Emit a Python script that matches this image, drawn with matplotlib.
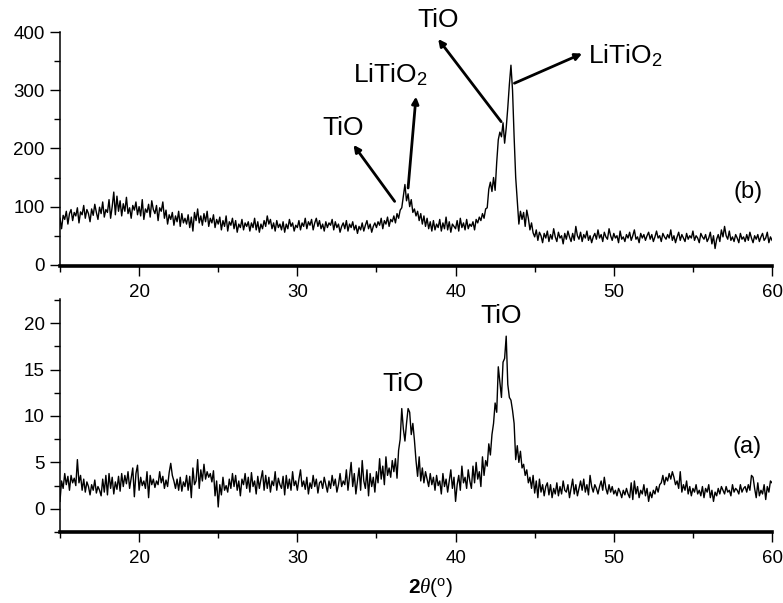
import numpy as np
import matplotlib
matplotlib.use("Agg")
import matplotlib.pyplot as plt
from matplotlib.ticker import MultipleLocator

plt.rcParams['font.family'] = ['Liberation Sans', 'DejaVu Sans']
plt.rcParams['mathtext.fontset'] = 'custom'
plt.rcParams['mathtext.rm'] = 'Liberation Sans'
plt.rcParams['mathtext.it'] = 'Liberation Serif:italic'
plt.rcParams['mathtext.bf'] = 'Liberation Sans:bold'

# XRD intensities, 0.1 deg steps from 15 to 60 (one row per degree)
pattern_b = [
    80, 62, 85, 78, 92, 70, 88, 95, 76, 90,
    84, 98, 72, 91, 86, 102, 80, 95, 88, 74,
    96, 85, 104, 90, 78, 99, 88, 108, 82, 95,
    90, 112, 80, 100, 125, 86, 118, 92, 110, 84,
    105, 92, 116, 88, 98, 80, 102, 94, 108, 86,
    100, 84, 112, 78, 96, 90, 104, 82, 110, 95,
    88, 102, 76, 98, 92, 108, 80, 94, 70, 86,
    78, 90, 68, 84, 74, 92, 66, 88, 72, 80,
    70, 86, 64, 82, 58, 90, 76, 96, 72, 84,
    68, 88, 74, 92, 66, 80, 72, 86, 64, 78,
    70, 82, 60, 76, 66, 84, 58, 74, 68, 80,
    62, 76, 56, 70, 64, 78, 60, 72, 66, 74,
    58, 72, 64, 80, 60, 74, 56, 70, 62, 76,
    66, 84, 70, 78, 62, 72, 58, 76, 64, 70,
    60, 74, 56, 70, 62, 78, 66, 72, 58, 68,
    64, 76, 60, 72, 66, 80, 62, 74, 68, 78,
    60, 72, 80, 66, 76, 62, 70, 58, 74, 64,
    72, 68, 78, 60, 74, 64, 70, 56, 66, 72,
    62, 76, 58, 70, 64, 74, 60, 68, 54, 66,
    60, 72, 58, 68, 76, 62, 70, 56, 66, 72,
    64, 74, 68, 80, 62, 76, 70, 82, 66, 78,
    74, 84, 72, 88, 80, 94, 98, 118, 138, 110,
    122, 100, 112, 90, 96, 84, 92, 76, 88, 70,
    84, 66, 80, 62, 74, 58, 76, 60, 70, 64,
    78, 58, 72, 62, 82, 60, 74, 56, 70, 66,
    62, 76, 58, 80, 64, 72, 60, 78, 62, 70,
    66, 74, 60, 78, 72, 82, 76, 88, 80, 96,
    98, 130, 142, 126, 150, 128, 176, 215, 228, 220,
    244, 209, 235, 270, 310, 343, 300, 220, 150, 110,
    70, 92, 78, 90, 66, 94, 80, 60, 72, 55,
    48, 60, 42, 56, 50, 38, 54, 46, 58, 40,
    52, 44, 62, 48, 40, 56, 46, 50, 36, 54,
    44, 58, 48, 40, 54, 42, 66, 50, 44, 56,
    40, 52, 46, 58, 42, 50, 38, 48, 54, 44,
    60, 46, 52, 40, 56, 48, 44, 62, 50, 42,
    54, 46, 50, 38, 58, 44, 48, 40, 52, 46,
    56, 42, 50, 60, 44, 48, 38, 54, 46, 52,
    42, 50, 56, 44, 52, 40, 48, 58, 46, 50,
    40, 54, 48, 44, 52, 46, 60, 42, 50, 38,
    48, 56, 42, 52, 46, 40, 54, 44, 50, 46,
    58, 42, 50, 46, 38, 54, 48, 44, 52, 40,
    46, 56, 36, 50, 28, 44, 52, 40, 60, 48,
    66, 50, 44, 58, 42, 48, 40, 52, 46, 38,
    54, 44, 48, 40, 52, 42, 56, 46, 38, 50,
    44, 52, 40, 48, 54, 42, 46, 56, 38, 48,
    42,
]

pattern_a = [
    0.8, 3.0, 2.2, 3.8, 2.6, 3.5, 2.0, 3.6, 2.8, 3.3,
    2.5, 5.3, 2.8, 3.6, 2.0, 3.2, 1.8, 2.9, 2.4, 1.5,
    2.6, 2.0, 3.1, 1.7, 2.4, 2.0, 1.4, 3.2, 1.8, 3.6,
    1.5, 3.8, 2.2, 3.4, 1.6, 2.9, 2.1, 3.5, 1.9, 3.8,
    2.4, 3.6, 2.7, 4.0, 2.2, 3.3, 4.4, 1.3, 3.8, 4.7,
    2.0, 3.4, 2.5, 3.0, 2.2, 4.0, 1.2, 3.6, 2.6, 3.2,
    2.3, 3.0, 2.6, 4.0, 2.8, 3.5, 2.2, 3.1, 2.4, 3.9,
    4.9, 3.6, 3.0, 2.2, 3.2, 2.0, 3.4, 1.9, 2.9, 2.4,
    3.6, 2.0, 3.5, 1.2, 4.4, 2.6, 3.0, 5.3, 2.2, 4.2,
    3.0, 4.8, 3.2, 4.0, 3.4, 3.8, 2.9, 4.1, 1.4, 3.0,
    0.2, 2.6, 1.5, 3.4, 2.0, 2.5, 1.8, 3.2, 2.2, 3.8,
    2.4, 3.6, 2.0, 3.0, 1.4, 3.2, 2.6, 3.8, 2.2, 3.4,
    1.8, 3.9, 2.4, 3.0, 1.6, 3.5, 2.2, 3.2, 4.1, 2.0,
    3.6, 2.2, 3.4, 1.8, 3.0, 2.5, 4.0, 2.0, 3.3, 2.6,
    2.2, 3.5, 1.5, 3.6, 2.2, 3.2, 2.0, 4.0, 2.5, 3.0,
    2.0, 3.2, 4.2, 2.4, 3.0, 2.1, 3.4, 1.6, 2.8, 2.2,
    3.6, 2.4, 3.2, 1.7, 2.8, 3.0, 2.2, 3.4, 2.6, 1.8,
    3.0, 2.2, 3.6, 2.5, 3.2, 1.8, 2.6, 3.8, 2.4, 3.0,
    2.6, 4.2, 2.0, 3.5, 5.0, 2.4, 3.8, 1.6, 3.0, 4.4,
    2.0, 5.2, 3.0, 2.2, 4.2, 1.4, 3.8, 2.4, 3.4, 1.8,
    4.0, 2.8, 5.4, 3.2, 4.6, 2.6, 5.6, 3.6, 4.4, 3.4,
    5.2, 4.0, 5.4, 3.3, 6.3, 7.5, 10.8, 8.6, 7.3, 9.2,
    10.8, 10.4, 8.0, 9.2, 7.4, 5.2, 3.5, 5.6, 3.0, 4.4,
    2.8, 4.0, 3.2, 2.4, 3.8, 2.6, 3.4, 2.0, 3.6, 2.5,
    3.0, 1.6, 3.8, 2.4, 3.2, 1.8, 3.0, 4.2, 2.2, 3.4,
    0.8, 2.6, 3.6, 2.0, 4.6, 2.8, 3.4, 2.2, 4.2, 3.0,
    2.2, 4.6, 2.8, 5.0, 3.2, 4.0, 2.4, 5.6, 3.6, 5.2,
    4.6, 7.0, 5.8, 8.0, 9.2, 11.4, 10.4, 15.3, 13.6, 12.0,
    15.8, 16.2, 18.6, 13.4, 12.0, 11.7, 10.6, 9.2, 5.3, 6.8,
    5.0, 6.2, 4.4, 4.8, 3.6, 4.2, 2.8, 3.4, 2.2, 3.6,
    1.7, 3.0, 1.2, 3.2, 1.8, 2.6, 1.4, 2.4, 2.8, 1.5,
    2.6, 1.2, 2.2, 1.6, 2.8, 1.4, 2.4, 1.6, 3.0, 2.0,
    1.8, 2.6, 1.2, 2.2, 3.2, 1.6, 2.6, 1.4, 2.2, 3.0,
    2.0, 3.2, 1.8, 2.6, 1.5, 3.6, 2.4, 1.8, 2.6, 2.2,
    1.6, 2.4, 3.0, 2.0, 3.4, 2.2, 1.6, 2.6, 1.8, 2.4,
    1.6, 2.0, 1.4, 2.2, 1.8, 1.2, 2.0, 1.5, 2.2, 1.6,
    1.2, 2.8, 1.0, 3.0, 1.6, 2.4, 1.2, 2.0, 1.6, 2.6,
    1.4, 2.2, 0.8, 1.8, 1.2, 2.0, 1.6, 2.4, 1.8, 2.6,
    2.8, 3.6, 2.6, 3.4, 3.0, 3.8, 3.2, 4.0, 3.4, 2.6,
    3.0, 2.2, 4.0, 1.8, 2.6, 2.0, 3.0, 1.6, 2.4, 1.4,
    2.2, 1.8, 2.6, 1.6, 2.0, 1.4, 2.4, 1.2, 2.2, 1.8,
    2.6, 1.2, 2.0, 0.8, 1.8, 1.4, 2.2, 1.6, 2.4, 2.0,
    1.6, 2.4, 1.8, 2.0, 1.4, 2.6, 1.8, 2.2, 2.0, 1.6,
    2.6, 1.8, 2.2, 2.4, 1.8, 2.6, 2.0, 3.6, 3.4, 2.2,
    1.2, 2.8, 1.4, 2.0, 1.6, 2.6, 1.0, 2.4, 1.8, 3.0,
    2.8,
]

two_theta = np.linspace(15, 60, len(pattern_b))


def style_axis(ax, ylim, major, minor):
    ax.set_xlim(15, 60)
    ax.set_ylim(*ylim)
    for s in ('top', 'right'):
        ax.spines[s].set_visible(False)
    ax.spines['left'].set_linewidth(1.1)
    ax.spines['bottom'].set_linewidth(2.6)
    ax.xaxis.set_major_locator(MultipleLocator(10))
    ax.xaxis.set_minor_locator(MultipleLocator(5))
    ax.yaxis.set_major_locator(MultipleLocator(major))
    ax.yaxis.set_minor_locator(MultipleLocator(minor))
    ax.tick_params(which='major', direction='out', length=7, width=1, labelsize=13.5, pad=4)
    ax.tick_params(axis='x', which='major', pad=6)
    ax.tick_params(which='minor', direction='out', length=4.5, width=1)


fig = plt.figure(figsize=(7.83, 6.03), dpi=100)
ax_b = fig.add_axes([0.0766, 0.5589, 0.9094, 0.388])
ax_a = fig.add_axes([0.0766, 0.1177, 0.9094, 0.3864])

# top pattern (b)
ax_b.plot(two_theta, pattern_b, color='k', lw=1.0)
style_axis(ax_b, (-2, 400), 100, 50)
ax_b.set_yticks([0, 100, 200, 300, 400])

arrow = dict(arrowstyle='-|>', lw=2.0, color='k', mutation_scale=10, shrinkA=0, shrinkB=0)
ax_b.annotate('', xy=(33.55, 206), xytext=(36.15, 109), arrowprops=arrow)
ax_b.annotate('', xy=(37.5, 289), xytext=(37.0, 132), arrowprops=arrow)
ax_b.annotate('', xy=(38.9, 388), xytext=(42.88, 246), arrowprops=arrow, annotation_clip=False)
ax_b.annotate('', xy=(48.0, 363), xytext=(43.72, 312), arrowprops=arrow)
ax_b.text(32.9, 235, 'TiO', fontsize=19, ha='center', va='center')
ax_b.text(35.9, 326, 'LiTiO$_2$', fontsize=19, ha='center', va='center')
ax_b.text(38.9, 420, 'TiO', fontsize=19, ha='center', va='center')
ax_b.text(48.4, 360, 'LiTiO$_2$', fontsize=19, ha='left', va='center')
ax_b.text(58.5, 125, '(b)', fontsize=17, ha='center', va='center')

# bottom pattern (a)
ax_a.plot(two_theta, pattern_a, color='k', lw=1.0)
style_axis(ax_a, (-2.5, 22.6), 5, 2.5)
ax_a.set_yticks([0, 5, 10, 15, 20])
ax_a.text(36.7, 13.4, 'TiO', fontsize=19, ha='center', va='center')
ax_a.text(42.9, 20.8, 'TiO', fontsize=19, ha='center', va='center')
ax_a.text(58.4, 6.7, '(a)', fontsize=17, ha='center', va='center')
ax_a.set_xlabel(r'$\mathbf{2}\mathit{\theta}(^{\mathrm{o}})$', fontsize=15)
ax_a.xaxis.set_label_coords(0.52, -0.19)

fig.savefig('out.png', dpi=100)
